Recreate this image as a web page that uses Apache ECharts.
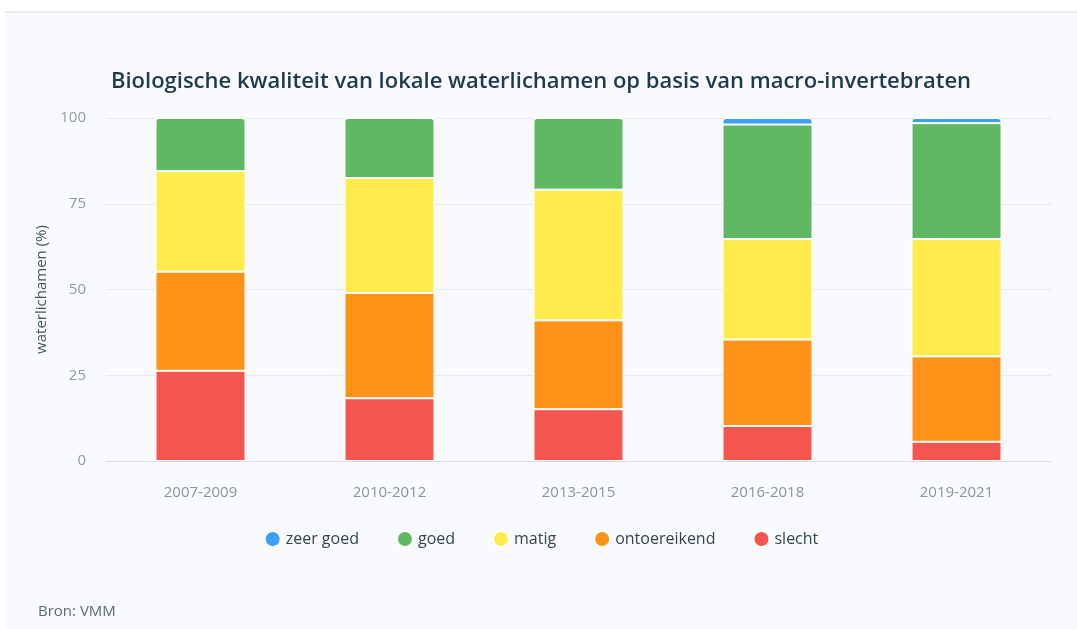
<!DOCTYPE html>
<html>
<head>
<meta charset="utf-8">
<script src="https://cdn.jsdelivr.net/npm/echarts@6/dist/echarts.min.js"></script>
<style>
  html, body { margin: 0; padding: 0; background: #ffffff; }
  #wrap { position: absolute; left: 5px; top: 11px; width: 1072px; height: 618px; background: #f8fafd; border-top: 2px solid #e6e9ee; }
  #chart { width: 1072px; height: 618px; }
</style>
</head>
<body>
<div id="wrap"><div id="chart"></div></div>
<script>
  // periodes en aandelen (%) per klasse
  const periods = ['2007-2009', '2010-2012', '2013-2015', '2016-2018', '2019-2021'];
  const slecht = [26.3, 18.3, 15.1, 10.2, 5.6];
  const ontoereikend = [28.9, 30.7, 25.9, 25.2, 24.9];
  const matig = [29.3, 33.5, 38.1, 29.3, 34.2];
  const goed = [15.5, 17.5, 20.9, 33.4, 33.8];
  const zeerGoed = [0, 0, 0, 1.9, 1.5];
  const yTicks = [0, 25, 50, 75, 100];

  const textFont = '"Open Sans", "Noto Sans", sans-serif';
  let chart = echarts.init(document.getElementById('chart'));

  function serie(name, data, color) {
    return {
      name: name,
      type: 'bar',
      stack: 'totaal',
      barWidth: 90,
      data: data,
      itemStyle: { color: color, borderColor: '#ffffff', borderWidth: 1 }
    };
  }

  // bovenste segment per staaf krijgt afgeronde hoeken
  const series = [
    serie('slecht', slecht, '#f5554f'),
    serie('ontoereikend', ontoereikend, '#ff9319'),
    serie('matig', matig, '#ffeb4c'),
    serie('goed', goed, '#60b863'),
    serie('zeer goed', zeerGoed, '#3aa0f3')
  ];
  series[3].data = goed.map((v, i) => zeerGoed[i] > 0 ? v : { value: v, itemStyle: { borderRadius: [3, 3, 0, 0] } });
  series[4].itemStyle.borderRadius = [3, 3, 0, 0];

  chart.setOption({
    animation: false,
    title: {
      text: 'Biologische kwaliteit van lokale waterlichamen op basis van macro-invertebraten',
      left: 'center',
      top: 53,
      textStyle: { fontFamily: textFont, fontSize: 22, fontWeight: 600, color: '#1d3b4a' }
    },
    legend: {
      data: ['zeer goed', 'goed', 'matig', 'ontoereikend', 'slecht'],
      bottom: 78,
      left: 'center',
      icon: 'circle',
      itemWidth: 16,
      itemHeight: 16,
      itemGap: 37,
      textStyle: { fontFamily: textFont, fontSize: 16, color: '#33454f' }
    },
    grid: { left: 101, right: 26, top: 105, bottom: 170 },
    xAxis: {
      type: 'category',
      data: periods,
      axisTick: { show: false },
      axisLine: { lineStyle: { color: '#d9dee4' } },
      axisLabel: { fontFamily: textFont, fontSize: 15, color: '#8796a0', margin: 24 }
    },
    yAxis: {
      type: 'value',
      min: yTicks[0],
      max: yTicks[yTicks.length - 1],
      interval: 25,
      name: 'waterlichamen (%)',
      nameLocation: 'middle',
      nameGap: 56,
      nameTextStyle: { fontFamily: textFont, fontSize: 15, color: '#3d5563' },
      axisLabel: { fontFamily: textFont, fontSize: 15, color: '#8f9ca5', margin: 20 },
      splitLine: { lineStyle: { color: '#e6ebef' } }
    },
    graphic: [{
      type: 'text',
      left: 33,
      bottom: 12,
      style: { text: 'Bron: VMM', font: '15px "Open Sans", sans-serif', fill: '#5c6b75' }
    }],
    series: series
  });
</script>
</body>
</html>
